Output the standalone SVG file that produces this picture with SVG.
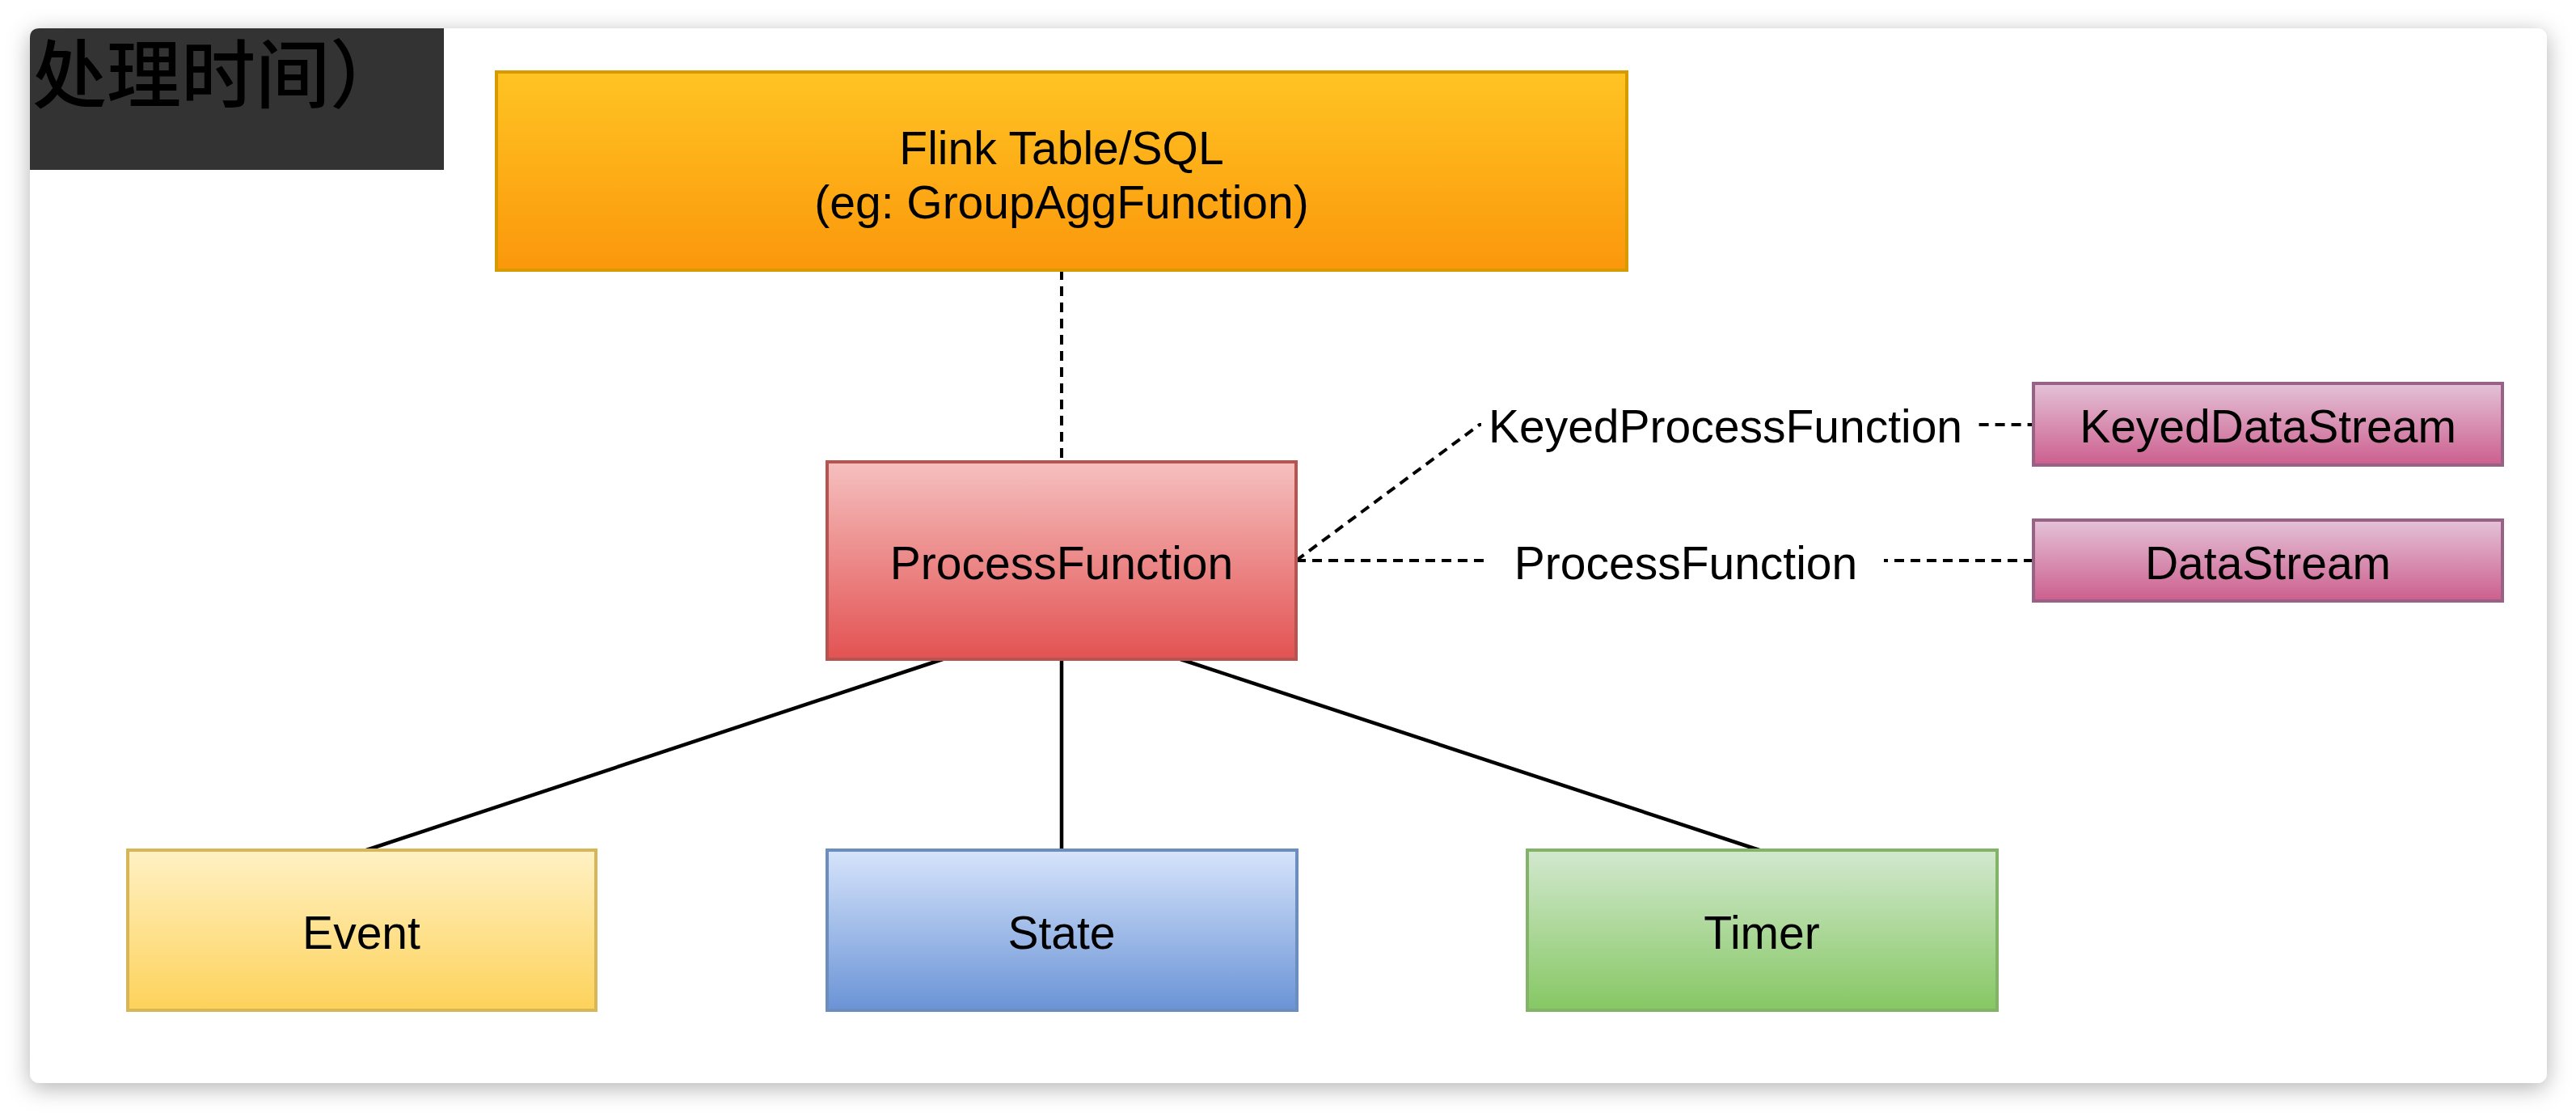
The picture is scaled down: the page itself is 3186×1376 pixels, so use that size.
<svg xmlns="http://www.w3.org/2000/svg" width="3186" height="1376" viewBox="0 0 3186 1376">
<defs>
<filter id="shadow" x="-5%" y="-10%" width="110%" height="120%">
<feDropShadow dx="0" dy="6" stdDeviation="14" flood-color="#000" flood-opacity="0.3"/>
</filter>
<linearGradient id="gOrange" x1="0" y1="0" x2="0" y2="1"><stop offset="0" stop-color="#ffc423"/><stop offset="1" stop-color="#fb970b"/></linearGradient>
<linearGradient id="gRed" x1="0" y1="0" x2="0" y2="1"><stop offset="0" stop-color="#f5c0bf"/><stop offset="1" stop-color="#e35252"/></linearGradient>
<linearGradient id="gPink" x1="0" y1="0" x2="0" y2="1"><stop offset="0" stop-color="#e4c2d7"/><stop offset="1" stop-color="#cc5e8e"/></linearGradient>
<linearGradient id="gYellow" x1="0" y1="0" x2="0" y2="1"><stop offset="0" stop-color="#fff1c4"/><stop offset="1" stop-color="#fdd25a"/></linearGradient>
<linearGradient id="gBlue" x1="0" y1="0" x2="0" y2="1"><stop offset="0" stop-color="#d6e4fb"/><stop offset="1" stop-color="#6a93d6"/></linearGradient>
<linearGradient id="gGreen" x1="0" y1="0" x2="0" y2="1"><stop offset="0" stop-color="#d2e8cf"/><stop offset="1" stop-color="#86c763"/></linearGradient>
</defs>
<style>
text{font-family:"Liberation Sans","Noto Sans CJK SC",sans-serif;font-size:57px;fill:#000;text-anchor:middle}
.box{stroke-width:4}
.dash{fill:none;stroke:#000;stroke-width:4;stroke-dasharray:12 8}
.solid{fill:none;stroke:#000;stroke-width:4.5}
.lblbg{fill:#fff}
</style>
<rect x="0" y="0" width="3186" height="1376" fill="#fff"/>
<rect id="card" x="37" y="35" width="3113" height="1304" rx="12" fill="#fff" filter="url(#shadow)"/>
<g id="header">
<path d="M49 35 H549 V210 H37 V47 Q37 35 49 35 Z" fill="#333"/>
<text x="40" y="126" style="font-size:92px;font-weight:500;text-anchor:start;font-family:'Noto Sans CJK SC',sans-serif">处理时间）</text>
</g>
<g id="connectors">
<path class="dash" d="M1313 334 V571"/>
<path class="dash" d="M1603 693 H2515"/>
<path class="dash" d="M1603 693 L1830 525 H2515"/>
<path class="solid" d="M1166 815 L453 1051"/>
<path class="solid" d="M1313 815 V1051"/>
<path class="solid" d="M1460 815 L2176 1051"/>
<rect class="lblbg" x="1832" y="490" width="608" height="70"/>
<text x="2134" y="547">KeyedProcessFunction</text>
<rect class="lblbg" x="1842" y="658" width="488" height="70"/>
<text x="2085" y="716">ProcessFunction</text>
</g>
<g id="flink-table">
<rect class="box" x="614" y="89" width="1398" height="245" fill="url(#gOrange)" stroke="#d79b00"/>
<text x="1313" y="203">Flink Table/SQL</text>
<text x="1313" y="270">(eg: GroupAggFunction)</text>
</g>
<g id="process-function">
<rect class="box" x="1023" y="571" width="580" height="244" fill="url(#gRed)" stroke="#b85450"/>
<text x="1313" y="716">ProcessFunction</text>
</g>
<g id="keyed-data-stream">
<rect class="box" x="2515" y="474" width="580" height="101" fill="url(#gPink)" stroke="#996185"/>
<text x="2805" y="547">KeyedDataStream</text>
</g>
<g id="data-stream">
<rect class="box" x="2515" y="643" width="580" height="100" fill="url(#gPink)" stroke="#996185"/>
<text x="2805" y="716">DataStream</text>
</g>
<g id="event">
<rect class="box" x="158" y="1051" width="579" height="198" fill="url(#gYellow)" stroke="#d6b656"/>
<text x="447" y="1173">Event</text>
</g>
<g id="state">
<rect class="box" x="1023" y="1051" width="581" height="198" fill="url(#gBlue)" stroke="#6c8ebf"/>
<text x="1313" y="1173">State</text>
</g>
<g id="timer">
<rect class="box" x="1889" y="1051" width="581" height="198" fill="url(#gGreen)" stroke="#82b366"/>
<text x="2179" y="1173">Timer</text>
</g>
</svg>
